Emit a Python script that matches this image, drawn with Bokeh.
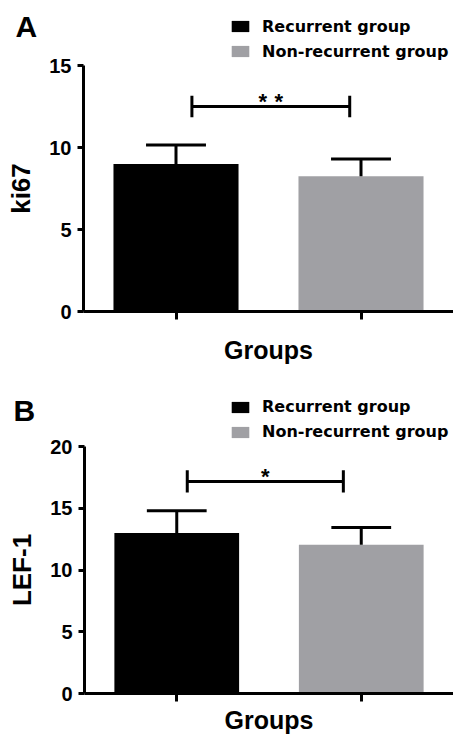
from bokeh.plotting import figure
from bokeh.models import ColumnDataSource, Range1d, FixedTicker, Label
from bokeh.layouts import column
from bokeh.embed import file_html
from bokeh.resources import INLINE
from bokeh.core.properties import value

# ---- data ----
groups = ["Recurrent group", "Non-recurrent group"]
group_colors = ["#000000", "#a0a0a4"]

ki67_mean = [9.0, 8.25]
ki67_err = [1.15, 1.05]
ki67_ticks = [0, 5, 10, 15]
ki67_sig_x = [0.086, 0.939]
ki67_sig_y = 12.5
ki67_sig_text = "*\u2004*"

lef1_mean = [13.0, 12.05]
lef1_err = [1.8, 1.4]
lef1_ticks = [0, 5, 10, 15, 20]
lef1_sig_x = [0.057, 0.903]
lef1_sig_y = 17.17
lef1_sig_text = "*"

FONT = "Liberation Sans"
LEG_FONT = "DejaVu Sans"
W = 453
OVERLAP = 12


def header(letter, height, letter_x, letter_y, legend_vy):
    h = figure(width=W, height=height, x_range=Range1d(0, W), y_range=Range1d(0, height),
               output_backend="svg", toolbar_location=None, title=None,
               x_axis_location=None, y_axis_location=None,
               min_border=0, min_border_left=0, min_border_right=0,
               min_border_top=0, min_border_bottom=0)
    h.frame_align = False
    h.outline_line_color = None
    h.xgrid.visible = False
    h.ygrid.visible = False
    src = ColumnDataSource(dict(x=list(range(len(groups))), top=[1] * len(groups),
                                group=groups, color=group_colors))
    r = h.vbar(x="x", top="top", width=0.5, source=src, fill_color="color",
               line_color=None, legend_field="group")
    r.visible = False
    h.add_layout(Label(x=letter_x, y=letter_y, x_units="screen", y_units="screen",
                       text=letter, text_font=FONT, text_font_style="bold",
                       text_font_size="30px", text_align="left",
                       text_baseline="alphabetic", text_color="black"))
    leg = h.legend[0]
    leg.location = (229, legend_vy)
    leg.click_policy = "none"
    leg.inactive_fill_alpha = 0
    leg.border_line_color = None
    leg.background_fill_alpha = 0
    leg.padding = 0
    leg.margin = 0
    leg.spacing = 5
    leg.glyph_width = 22
    leg.glyph_height = 14
    leg.label_height = 20
    leg.label_standoff = 11
    leg.label_text_font = LEG_FONT
    leg.label_text_font_style = "bold"
    leg.label_text_font_size = "16px"
    leg.label_text_color = "black"
    return h


def panel(ylabel, means, errs, ticks, sig_x, sig_y, sig_h, sig_text,
          height, b_left, b_bottom, xlabel_standoff):
    xs = list(range(len(groups)))
    p = figure(width=W, height=height,
               x_range=Range1d(-0.5, len(groups) - 0.5),
               y_range=Range1d(0, ticks[-1]),
               output_backend="svg", toolbar_location=None, title=None,
               min_border_left=b_left, min_border_right=0,
               min_border_top=OVERLAP, min_border_bottom=b_bottom,
               margin=(-OVERLAP, 0, 0, 0))
    p.frame_align = False
    p.outline_line_color = None
    p.xgrid.visible = False
    p.ygrid.visible = False
    p.background_fill_color = "white"
    p.border_fill_alpha = 0

    src = ColumnDataSource(dict(x=xs, top=means, group=groups, color=group_colors,
                                ehi=[m + e for m, e in zip(means, errs)],
                                c0=[x - 0.162 for x in xs], c1=[x + 0.162 for x in xs]))
    p.vbar(x="x", top="top", width=0.676, source=src, fill_color="color",
           line_color=None)
    p.segment(x0="x", y0="top", x1="x", y1="ehi", source=src,
              line_color="black", line_width=3)
    p.segment(x0="c0", y0="ehi", x1="c1", y1="ehi", source=src,
              line_color="black", line_width=3)

    # significance bracket
    p.segment(x0=[sig_x[0]], y0=[sig_y], x1=[sig_x[1]], y1=[sig_y],
              line_color="black", line_width=3)
    p.segment(x0=sig_x, y0=[sig_y - sig_h] * 2, x1=sig_x, y1=[sig_y + sig_h] * 2,
              line_color="black", line_width=3)
    p.text(x=[(sig_x[0] + sig_x[1]) / 2], y=[sig_y], text=[sig_text],
           text_font=value(FONT), text_font_style="bold", text_font_size=value("22px"),
           text_align="center", text_baseline="alphabetic", y_offset=-5,
           text_color="black")

    ya = p.yaxis[0]
    ya.ticker = FixedTicker(ticks=ticks)
    ya.axis_label = ylabel
    ya.axis_label_text_font = FONT
    ya.axis_label_text_font_style = "bold"
    ya.axis_label_text_font_size = "26px"
    ya.axis_label_text_color = "black"
    ya.axis_label_standoff = 10
    ya.major_label_text_font = FONT
    ya.major_label_text_font_style = "bold"
    ya.major_label_text_font_size = "20px"
    ya.major_label_standoff = 6
    ya.major_tick_out = 6
    ya.major_tick_in = 0
    ya.minor_tick_out = 0
    ya.minor_tick_in = 0
    ya.axis_line_width = 3
    ya.major_tick_line_width = 3
    ya.axis_line_color = "black"
    ya.major_tick_line_color = "black"
    ya.major_label_text_color = "black"

    xa = p.xaxis[0]
    xa.ticker = FixedTicker(ticks=xs)
    xa.major_label_overrides = {x: "" for x in xs}
    xa.major_label_text_font_size = "2px"
    xa.major_label_standoff = 0
    xa.axis_label = "Groups"
    xa.axis_label_text_font = FONT
    xa.axis_label_text_font_style = "bold"
    xa.axis_label_text_font_size = "25px"
    xa.axis_label_text_color = "black"
    xa.axis_label_standoff = xlabel_standoff
    xa.major_tick_out = 8
    xa.major_tick_in = 0
    xa.minor_tick_out = 0
    xa.minor_tick_in = 0
    xa.axis_line_width = 3
    xa.major_tick_line_width = 3
    xa.axis_line_color = "black"
    xa.major_tick_line_color = "black"
    return p


hA = header("A", 65, 15, 65 - 39 + 13, 4)
pA = panel("ki67", ki67_mean, ki67_err, ki67_ticks, ki67_sig_x, ki67_sig_y,
           0.65, ki67_sig_text, 370 - 65 + OVERLAP, 83, 59, 16)
hB = header("B", 76, 13, 76 - 52 + 12, 4.5)
pB = panel("LEF-1", lef1_mean, lef1_err, lef1_ticks, lef1_sig_x, lef1_sig_y,
           0.9, lef1_sig_text, 366 - 76 + OVERLAP, 84, 43, 4)

layout = column(hA, pA, hB, pB, spacing=0)
open("out.html", "w").write(file_html(layout, INLINE))
